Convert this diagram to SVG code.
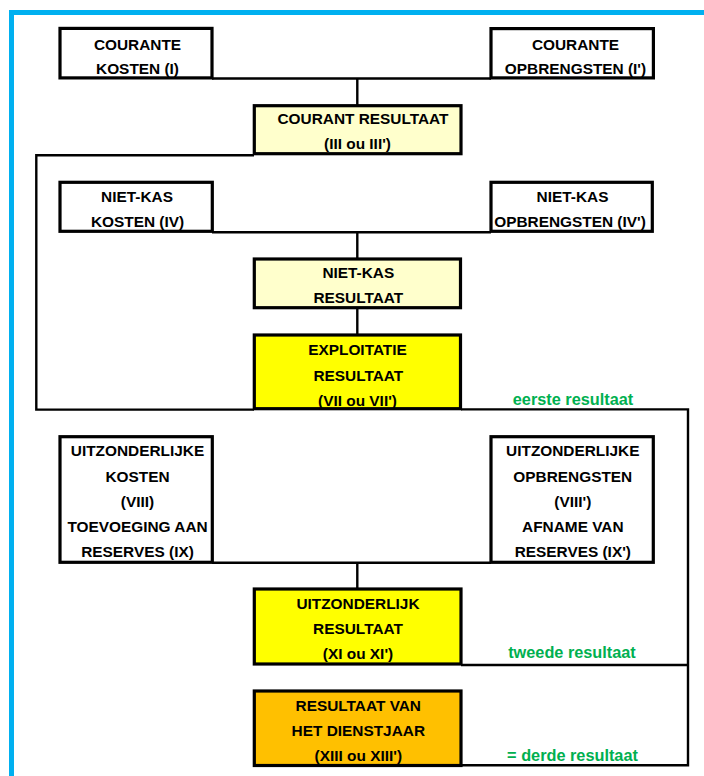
<svg xmlns="http://www.w3.org/2000/svg" width="704" height="776" viewBox="0 0 704 776">
<style>
.box{stroke:#000;stroke-width:3.2}
.w{fill:#fff}.ly{fill:#FFFFCC}.y{fill:#FFFF00}.o{fill:#FFC000}
.t{font-family:"Liberation Sans",Arial,sans-serif;font-weight:bold;font-size:15.4px;fill:#000;text-anchor:middle}
.g{font-family:"Liberation Sans",Arial,sans-serif;font-weight:bold;font-size:16.3px;fill:#00B050;text-anchor:middle}
.c{stroke:#000;stroke-width:2.4;fill:none}
.b{stroke:#00B0F0;stroke-width:5;fill:none}
</style>
<rect width="704" height="776" fill="#fff"/>
<g id="border"><path class="b" d="M11.5 776 V12.5 H704"/></g>
<g id="connectors">
<path class="c" d="M212 78.5 H491 M357.3 78.5 V105"/>
<path class="c" d="M254 155.3 H36.3 V409.6 H254"/>
<path class="c" d="M212 232.2 H491 M357.3 232.2 V259"/>
<path class="c" d="M357.3 307.7 V335"/>
<path class="c" d="M461 409.4 H688 V765.2 H461 M461 665 H688"/>
<path class="c" d="M212 562.8 H491 M357.3 562.8 V589"/>
</g>
<g id="n1"><rect class="box w" x="60" y="28.4" width="152" height="49.5"/><text class="t" x="137.5" y="49.5">COURANTE</text><text class="t" x="137.5" y="74">KOSTEN (I)</text></g>
<g id="n2"><rect class="box w" x="491" y="28.6" width="162.4" height="49.3"/><text class="t" x="575.5" y="49.5">COURANTE</text><text class="t" x="575.5" y="74">OPBRENGSTEN (I')</text></g>
<g id="n3"><rect class="box ly" x="254.3" y="105.7" width="206.7" height="48"/><text class="t" x="363" y="124.3">COURANT RESULTAAT</text><text class="t" x="357.5" y="148.5">(III ou III')</text></g>
<g id="n4"><rect class="box w" x="60" y="182.3" width="152.3" height="49"/><text class="t" x="137" y="201.7">NIET-KAS</text><text class="t" x="137.5" y="226.7">KOSTEN (IV)</text></g>
<g id="n5"><rect class="box w" x="491" y="182.3" width="161.3" height="49"/><text class="t" x="572.5" y="201.7">NIET-KAS</text><text class="t" x="570" y="226.7">OPBRENGSTEN (IV')</text></g>
<g id="n6"><rect class="box ly" x="254.3" y="259" width="206.2" height="48.7"/><text class="t" x="358.3" y="278.3">NIET-KAS</text><text class="t" x="358.3" y="303.3">RESULTAAT</text></g>
<g id="n7"><rect class="box y" x="254.3" y="335" width="206.2" height="73.7"/><text class="t" x="357.5" y="355">EXPLOITATIE</text><text class="t" x="358.3" y="380.5">RESULTAAT</text><text class="t" x="357.5" y="405.5">(VII ou VII')</text></g>
<text class="g" x="573" y="405">eerste resultaat</text>
<g id="n8"><rect class="box w" x="60" y="436.7" width="152.3" height="125.6"/><text class="t" x="137.5" y="456">UITZONDERLIJKE</text><text class="t" x="137.5" y="481.5">KOSTEN</text><text class="t" x="137.5" y="506.5">(VIII)</text><text class="t" x="137.5" y="531.7">TOEVOEGING AAN</text><text class="t" x="137.5" y="556.7">RESERVES (IX)</text></g>
<g id="n9"><rect class="box w" x="491" y="436.7" width="162.3" height="125.6"/><text class="t" x="572.8" y="456">UITZONDERLIJKE</text><text class="t" x="572.8" y="481.5">OPBRENGSTEN</text><text class="t" x="572.8" y="506.5">(VIII')</text><text class="t" x="572.8" y="531.7">AFNAME VAN</text><text class="t" x="572.8" y="556.7">RESERVES (IX')</text></g>
<g id="n10"><rect class="box y" x="254.3" y="589" width="206.7" height="75"/><text class="t" x="358" y="609.3">UITZONDERLIJK</text><text class="t" x="358" y="634.3">RESULTAAT</text><text class="t" x="358" y="658.5">(XI ou XI')</text></g>
<text class="g" x="572" y="658.3">tweede resultaat</text>
<g id="n11"><rect class="box o" x="254.3" y="691" width="206.7" height="74.5"/><text class="t" x="358.3" y="710.7">RESULTAAT VAN</text><text class="t" x="358.3" y="736">HET DIENSTJAAR</text><text class="t" x="358.3" y="760.5">(XIII ou XIII')</text></g>
<text class="g" x="572.5" y="760.5">= derde resultaat</text>
</svg>
